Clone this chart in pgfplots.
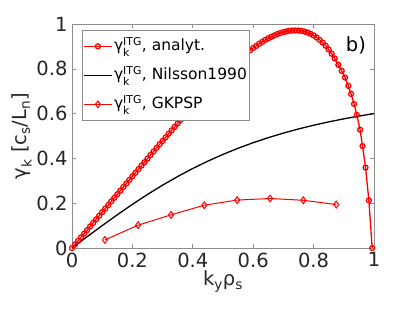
\documentclass[border=0pt]{standalone}
\usepackage{amsmath}
\usepackage{fontspec}
\setmainfont{DejaVu Sans}
\usepackage{pgfplots}
\pgfplotsset{compat=1.18}
\definecolor{mred}{RGB}{255,0,0}
\definecolor{axgray}{RGB}{140,140,140}
\definecolor{txt}{RGB}{38,38,38}

\pgfplotstableread{
x y
0 0
0.01 0.016
0.02 0.032
0.03 0.048
0.04 0.064
0.05 0.080
0.06 0.096
0.07 0.112
0.08 0.128
0.09 0.144
0.10 0.160
0.11 0.176
0.12 0.192
0.13 0.208
0.14 0.224
0.15 0.240
0.16 0.256
0.17 0.272
0.18 0.288
0.19 0.304
0.20 0.320
0.21 0.336
0.22 0.352
0.23 0.368
0.24 0.383
0.25 0.399
0.26 0.415
0.27 0.431
0.28 0.447
0.29 0.463
0.30 0.478
0.31 0.494
0.32 0.510
0.33 0.525
0.34 0.541
0.35 0.556
0.36 0.572
0.37 0.587
0.38 0.602
0.39 0.617
0.40 0.632
0.41 0.647
0.42 0.662
0.43 0.677
0.44 0.691
0.45 0.706
0.46 0.720
0.47 0.734
0.48 0.748
0.49 0.761
0.50 0.775
0.51 0.788
0.52 0.801
0.53 0.814
0.54 0.826
0.55 0.838
0.56 0.850
0.57 0.861
0.58 0.872
0.59 0.883
0.60 0.893
0.61 0.902
0.62 0.912
0.63 0.920
0.64 0.929
0.65 0.936
0.66 0.943
0.67 0.949
0.68 0.955
0.69 0.960
0.70 0.964
0.71 0.967
0.72 0.970
0.73 0.971
0.74 0.971
0.75 0.971
0.76 0.969
0.77 0.966
0.78 0.962
0.79 0.956
0.80 0.949
0.81 0.940
0.82 0.929
0.83 0.917
0.84 0.903
0.85 0.886
0.86 0.867
0.87 0.846
0.882 0.818
0.893 0.791
0.904 0.761
0.915 0.724
0.924 0.688
0.934 0.643
0.943 0.594
0.954 0.528
0.962 0.455
0.972 0.359
0.983 0.213
0.994 0
}\analyt

\pgfplotstableread{
x y
0 0
0.05 0.0503
0.10 0.1000
0.15 0.1483
0.20 0.1948
0.25 0.2390
0.30 0.2805
0.35 0.3192
0.40 0.3550
0.45 0.3879
0.50 0.4180
0.55 0.4453
0.60 0.4702
0.65 0.4926
0.70 0.5130
0.75 0.5314
0.80 0.5480
0.85 0.5630
0.90 0.5766
0.95 0.5889
1.00 0.6000
}\nilsson

\pgfplotstableread{
x y
0.109 0.036
0.219 0.102
0.328 0.148
0.438 0.191
0.547 0.214
0.656 0.221
0.766 0.213
0.875 0.194
}\gkpsp

\begin{document}
\begin{tikzpicture}
\begin{axis}[name=ax,
  scale only axis, width=302pt, height=224pt,
  xmin=0, xmax=1, ymin=0, ymax=1,
  xtick={0,0.2,0.4,0.6,0.8,1}, ytick={0,0.2,0.4,0.6,0.8,1},
  tick pos=both, tick align=inside, major tick length=4pt,
  axis line style={axgray, line width=0.6pt},
  tick style={axgray, line width=0.6pt},
  /pgf/number format/assume math mode=true,
  tick label style={font=\fontsize{19.5}{22}\selectfont, text=txt},
  xticklabel style={yshift=-1pt},
  yticklabel style={xshift=-1pt},
  label style={font=\fontsize{19.5}{22}\selectfont, text=txt},
  xlabel={k$_{\text{y}}$ρ$_{\text{s}}$},
  ylabel={$\text{γ}_{\text{k}}$ [c$_{\text{s}}$/L$_{\text{n}}$]},
  xlabel style={yshift=3pt},
  ylabel style={yshift=-2pt},
  clip=false,
  legend cell align=left,
  legend style={at={(rel axis cs:0.033,0.973)}, anchor=north west,
    draw=axgray, line width=0.6pt, fill=white,
    font=\fontsize{15.5}{18}\selectfont, text=black,
    inner xsep=1pt, inner ysep=1.5pt,
    nodes={inner sep=1.5pt, text depth=8.5pt, text height=17.5pt}},
  legend image code/.code={\draw[mark repeat=2,mark phase=2,#1] plot coordinates {(0pt,0pt) (14pt,0pt) (28pt,0pt)};},
]
\addplot[mred, line width=1.3pt, mark=o, mark size=2.5pt, mark options={line width=1.3pt}] table {\analyt};
\addlegendentry{$\text{γ}^{\text{ITG}}_{\text{k}}$, analyt.}
\addplot[black, line width=1.3pt] table {\nilsson};
\addlegendentry{$\text{γ}^{\text{ITG}}_{\text{k}}$, Nilsson1990}
\addplot[mred, line width=1.0pt, mark=diamond, mark size=3.4pt, mark options={line width=1.0pt, fill=white}] table {\gkpsp};
\addlegendentry{$\text{γ}^{\text{ITG}}_{\text{k}}$, GKPSP}
\node[font=\fontsize{19.5}{22}\selectfont, text=black] at (axis cs:0.94,0.905) {b)};
\end{axis}
\path ([xshift=-72pt,yshift=-63pt]ax.south west) rectangle ([xshift=41pt,yshift=24pt]ax.north east);
\end{tikzpicture}
\end{document}
